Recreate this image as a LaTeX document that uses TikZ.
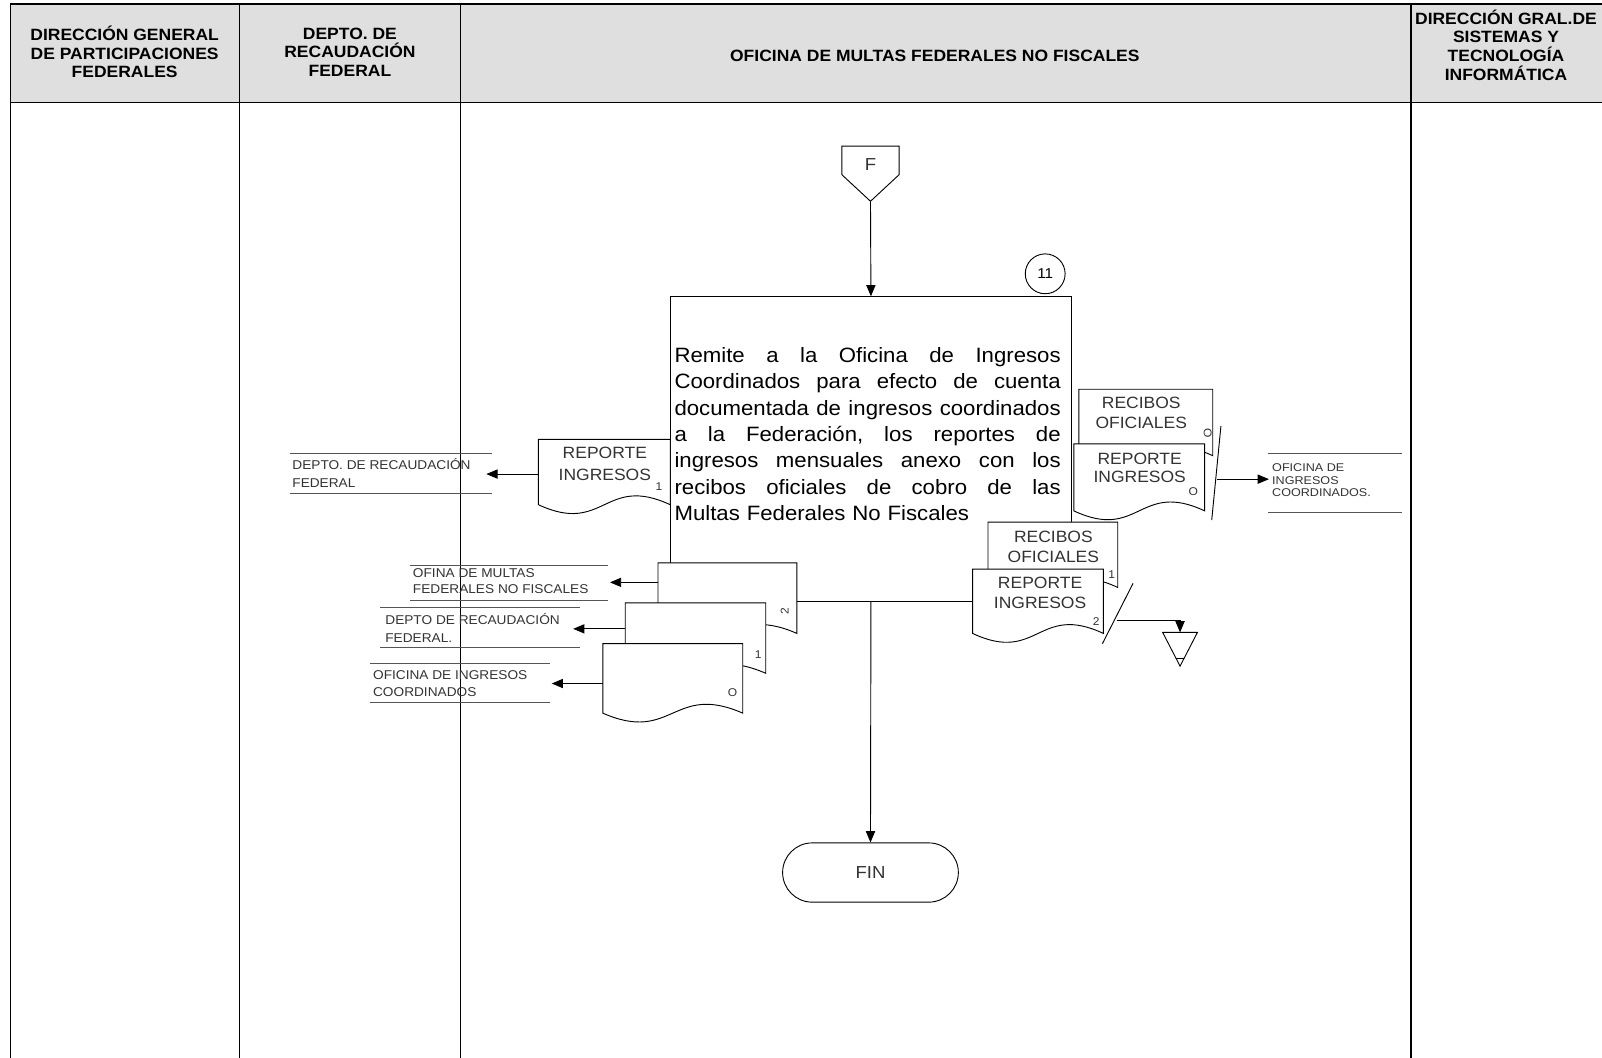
\documentclass[tikz,border=0pt]{standalone}
\usepackage{fontspec}
\setmainfont{Liberation Sans}[FakeStretch=1.07]
\newfontfamily\widefont{Liberation Sans}[FakeStretch=1.12]
\usetikzlibrary{arrows.meta,shapes.geometric}
\definecolor{hdrgray}{HTML}{DFDFDF}
\definecolor{txtgray}{HTML}{333333}
\definecolor{lblgray}{HTML}{555555}
\newcommand\mydoc[4]{%
  \draw[docsh] (#1,#4) -- (#1,#2) -- (#3,#2) -- (#3,#4)
    .. controls ({(#1+#3)/2},{#4-30}) and ({(#1+#3)/2},{#4+30}) .. (#1,#4) -- cycle;}
\newcommand\jline[1]{\leavevmode\hbox to 378pt{#1}}
\begin{document}
\begin{tikzpicture}[x=1pt,y=-1pt,
  ln/.style={line width=0.9pt},
  arr/.style={line width=0.9pt,-{Triangle[length=11pt,width=9pt]}},
  docsh/.style={draw,line width=0.9pt,fill=white},
  lane/.style={line width=1.1pt},
  hdr/.style={font=\bfseries\fontsize{16}{18.3}\selectfont, align=center, inner sep=0},
  lbl/.style={font=\fontsize{12.5}{16.5}\selectfont, align=left, inner sep=0, anchor=west, text=txtgray},
  lblline/.style={draw=lblgray,line width=1pt},
  doctxt/.style={font=\fontsize{16}{19.5}\selectfont, align=center, inner sep=0, text=txtgray},
  num/.style={font=\fontsize{11}{11}\selectfont, inner sep=0, text=txtgray},
]
\useasboundingbox (0,0) rectangle (1568,1035);
\clip (0,0) rectangle (1568,1035);
% header
\fill[hdrgray] (10,4) rectangle (1600,100);
\draw[line width=1.3pt] (10,1040) -- (10,4) -- (1600,4);
\draw[line width=1.3pt] (10,100) -- (1600,100);
\draw[lane] (234,4) -- (234,1040);
\draw[lane] (451,4) -- (451,1040);
\draw[lane] (1381,4) -- (1381,1040);
\node[hdr] (h1) at (122,51) {DIRECCIÓN GENERAL\\DE PARTICIPACIONES\\FEDERALES};
\node[hdr] (h2) at (342.5,51) {DEPTO. DE\\RECAUDACIÓN\\FEDERAL};
\node[hdr] (h3) at (915,55) {OFICINA DE MULTAS FEDERALES NO FISCALES};
\node[hdr] (h4) at (1474,44) {DIRECCIÓN GRAL.DE\\SISTEMAS Y\\TECNOLOGÍA\\INFORMÁTICA};
% off-page connector F
\draw[ln] (824,143) -- (880,143) -- (880,171) -- (852,197) -- (824,171) -- cycle;
\node[font=\fontsize{17}{17}\selectfont, text=txtgray, inner sep=0] (F) at (852,161) {F};
\coordinate (Fb) at (852,197);
% process box
\node[draw, line width=0.9pt, minimum width=392pt, minimum height=298pt, anchor=north west, inner sep=0] (pbox) at (656,290) {};
\node[draw, circle, line width=0.9pt, minimum size=39pt, inner sep=0, font=\fontsize{14}{14}\selectfont] (n11) at (1023,268) {11};
\node[inner sep=0, anchor=north west, text width=378pt, align=left, font=\fontsize{20.3}{25.9}\selectfont] (ptxt) at (660,339.5)
{\jline{Remite\hfill a\hfill la\hfill Oficina\hfill de\hfill Ingresos}\\
\jline{Coordinados\hfill para\hfill efecto\hfill de\hfill cuenta}\\
\jline{documentada\hfill de\hfill ingresos\hfill coordinados}\\
\jline{a\hfill la\hfill Federación,\hfill los\hfill reportes\hfill de}\\
\jline{ingresos\hfill mensuales\hfill anexo\hfill con\hfill los}\\
\jline{recibos\hfill oficiales\hfill de\hfill cobro\hfill de\hfill las}\\
Multas Federales No Fiscales};
\draw[arr] (Fb) -- (pbox.north);
% FIN
\node[draw, line width=0.9pt, rounded corners=29pt, minimum width=172pt, minimum height=58pt, font=\fontsize{17}{17}\selectfont, text=txtgray] (fin) at (852,854) {FIN};
\draw[arr] (pbox.south) -- (fin.north);
% left document
\mydoc{527}{430}{656}{494}
\node[doctxt, font=\fontsize{16}{21}\selectfont] (dlt) at (592,454) {REPORTE\\INGRESOS};
\node[num] (dln) at (645,476) {1};
\coordinate (dlw) at (527,464);
\coordinate (lle) at (476,464);
\draw[arr] (dlw) -- (lle);
\draw[lblline] (284,444) -- (482,444);
\draw[lblline] (284,483.5) -- (482,483.5);
\node[lbl, font=\fontsize{12.5}{17.6}\selectfont] (ll) at (286,463) {DEPTO. DE RECAUDACIÓN\\FEDERAL};
% right cluster
\mydoc{1056}{381}{1187}{446}
\node[doctxt] (drt1) at (1117,404.3) {RECIBOS\\OFICIALES};
\node[num, rotate=-90] (drn1) at (1182,424) {O};
\mydoc{1051}{434.5}{1179}{500}
\node[doctxt, font=\fontsize{16}{17}\selectfont] (drt2) at (1115.5,458) {REPORTE\\INGRESOS};
\node[num] (drn2) at (1168,481) {O};
\coordinate (rs1) at (1195,417);
\coordinate (rs2) at (1186,509);
\draw[ln] (rs1) -- (rs2);
\coordinate (rsm) at (1191,469);
\coordinate (rlw) at (1242,469);
\draw[arr] (rsm) -- (rlw);
\draw[lblline] (1241,444) -- (1372,444);
\draw[lblline] (1241,502) -- (1372,502);
\node[lbl, font=\widefont\fontsize{11}{12}\selectfont] (rl) at (1245,470) {OFICINA DE\\INGRESOS\\COORDINADOS.};
% bottom-middle documents
\mydoc{644}{551}{780}{620}
\node[num, rotate=90] (dm2n) at (768,598) {2};
\mydoc{612}{590}{749.5}{659}
\node[num] (dm1n) at (742,641) {1};
\mydoc{590}{630}{727}{698}
\node[num] (dm0n) at (717,678) {O};
\coordinate (dm2w) at (644,570);
\coordinate (lm1e) at (597,570);
\draw[arr] (dm2w) -- (lm1e);
\coordinate (dm1w) at (612,615.5);
\coordinate (lm2e) at (561,615.5);
\draw[arr] (dm1w) -- (lm2e);
\coordinate (dm0w) at (590,669);
\coordinate (lm3e) at (540,669);
\draw[arr] (dm0w) -- (lm3e);
\draw[lblline] (401,553.5) -- (595,553.5);
\draw[lblline] (401,588) -- (595,588);
\node[lbl, font=\fontsize{12.5}{16}\selectfont] (lm1) at (404,569) {OFINA DE MULTAS\\FEDERALES NO FISCALES};
\draw[lblline] (372,595) -- (568,595);
\draw[lblline] (372,634) -- (568,634);
\node[lbl, font=\fontsize{12.5}{17}\selectfont] (lm2) at (377,614.5) {DEPTO DE RECAUDACIÓN\\FEDERAL.};
\draw[lblline] (362,649) -- (538,649);
\draw[lblline] (362,688) -- (538,688);
\node[lbl, font=\fontsize{12.5}{16.5}\selectfont] (lm3) at (365,669) {OFICINA DE INGRESOS\\COORDINADOS};
% bottom-right documents
\mydoc{967}{511}{1094}{575}
\node[doctxt, font=\fontsize{16}{19.7}\selectfont] (dbt1) at (1031,535) {RECIBOS\\OFICIALES};
\node[num] (dbn1) at (1088,562) {1};
\mydoc{952}{557}{1080}{620}
\node[doctxt] (dbt2) at (1018,580.5) {REPORTE\\INGRESOS};
\node[num] (dbn2) at (1073,608) {2};
\coordinate (bs1) at (1109,571);
\coordinate (bs2) at (1079,630);
\draw[ln] (bs1) -- (bs2);
% archive triangle
\draw[ln] (1138,619) -- (1172,619) -- (1155,652) -- cycle;
\draw[ln] (1151,644) -- (1159,644);
\coordinate (tri) at (1155,619);
\coordinate (bsm) at (1093,607);
\draw[arr] (bsm) -- (1155,607) -- (tri);
\end{tikzpicture}
\end{document}
